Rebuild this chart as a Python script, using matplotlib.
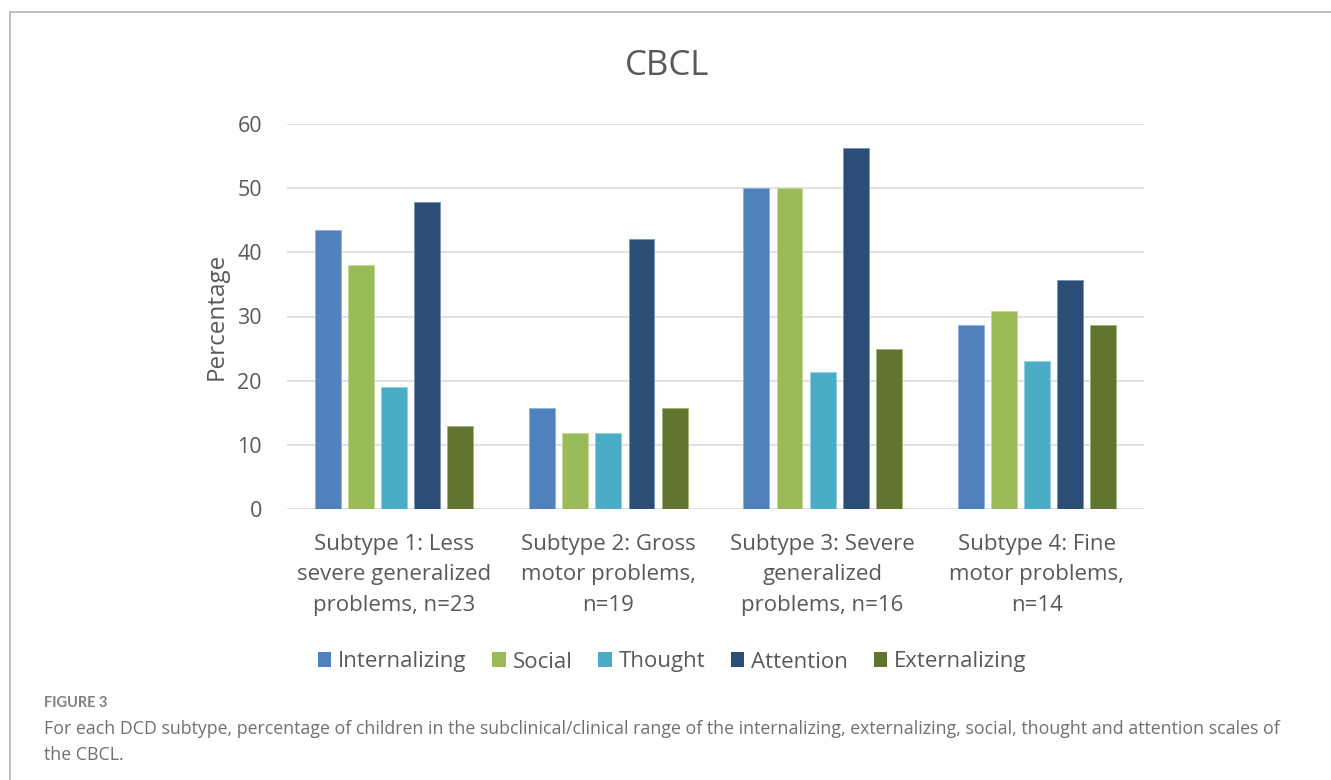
import matplotlib
matplotlib.use("Agg")
import matplotlib.pyplot as plt
from matplotlib.lines import Line2D
from matplotlib.patches import Patch
import numpy as np

plt.rcParams['font.family'] = ['Open Sans', 'DejaVu Sans']

categories = [
    "Subtype 1: Less\nsevere generalized\nproblems, n=23",
    "Subtype 2: Gross\nmotor problems,\nn=19",
    "Subtype 3: Severe\ngeneralized\nproblems, n=16",
    "Subtype 4: Fine\nmotor problems,\nn=14",
]
series_names = ["Internalizing", "Social", "Thought", "Attention", "Externalizing"]
internalizing = [43.5, 15.8, 50.0, 28.6]
social = [38.1, 11.8, 50.0, 30.8]
thought = [19.0, 11.8, 21.3, 23.0]
attention = [47.8, 42.1, 56.3, 35.7]
externalizing = [13.0, 15.8, 25.0, 28.6]
yticks = [0, 10, 20, 30, 40, 50, 60]

series_values = [internalizing, social, thought, attention, externalizing]
colors = ["#4F81BD", "#9BBB59", "#4BACC6", "#2C4D75", "#627530"]
edge_colors = ["#8FB0DA", "#C3DA94", "#8ED0E2", "#7A94B6", "#A0B473"]

W, H = 1331, 780
fig = plt.figure(figsize=(W / 100, H / 100), dpi=100)
fig.patch.set_facecolor("white")

ax = fig.add_axes([287 / W, (H - 509) / H, (1144 - 287) / W, (509 - 124) / H])
x = np.arange(len(categories))
pitch = 0.1545
width = 0.121
for i, (vals, c, ec) in enumerate(zip(series_values, colors, edge_colors)):
    ax.bar(x + (i - 2) * pitch, vals, width=width, color=c, edgecolor=ec,
           linewidth=0.6, zorder=3, label=series_names[i])

ax.set_xlim(-0.5, len(categories) - 0.5)
ax.set_ylim(0, 60)
ax.set_yticks(yticks)
ax.yaxis.grid(True, color="#D9D9D9", linewidth=1.1, zorder=0)
ax.set_axisbelow(True)
for s in ax.spines.values():
    s.set_visible(False)
ax.tick_params(axis="y", length=0, labelsize=15.5, colors="#595959", pad=18)
ax.tick_params(axis="x", length=0, labelsize=16, colors="#595959", pad=18)
ax.set_xticks(x)
ax.set_xticklabels(categories, linespacing=1.58)
ax.set_ylabel("Percentage", fontsize=17.5, color="#595959", labelpad=6)

fig.text(667 / W, 1 - 66 / H, "CBCL", ha="center", va="center",
         fontsize=25, color="#595959")

handles = [Patch(facecolor=c, edgecolor="none") for c in colors]
fig.legend(handles, series_names, loc="center", bbox_to_anchor=(672 / W, 1 - 662 / H),
           ncol=5, frameon=False, fontsize=16, labelcolor="#595959",
           handlelength=0.62, handleheight=0.62, handletextpad=0.3,
           columnspacing=1.15)

# outer frame: top and left rules
fig.add_artist(Line2D([10 / W, 10 / W], [0, 1 - 12 / H], color="#B5B5B5",
                      linewidth=1.2, transform=fig.transFigure))
fig.add_artist(Line2D([10 / W, 1], [1 - 12 / H, 1 - 12 / H], color="#B5B5B5",
                      linewidth=1.2, transform=fig.transFigure))

fig.text(44 / W, 1 - 703 / H, "FIGURE 3", ha="left", va="center",
         fontsize=10.5, color="#808080", fontweight="bold", family=["Lato", "DejaVu Sans"])
fig.text(44 / W, 1 - 742 / H,
         "For each DCD subtype, percentage of children in the subclinical/clinical range of the "
         "internalizing, externalizing, social, thought and attention scales of\nthe CBCL.",
         ha="left", va="center", fontsize=12.8, color="#707070",
         family=["Open Sans", "DejaVu Sans"], linespacing=1.55)

fig.savefig("out.png", dpi=100, facecolor="white")
